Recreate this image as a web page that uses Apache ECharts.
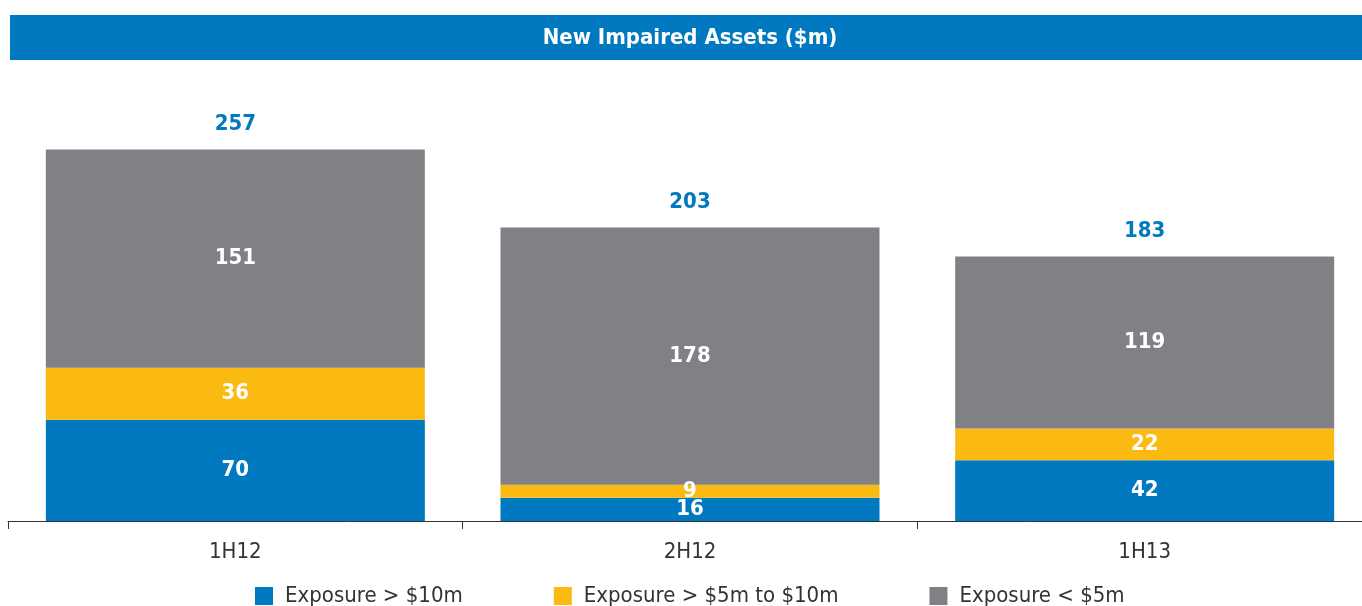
<!DOCTYPE html>
<html>
<head>
<meta charset="utf-8">
<script src="https://cdn.jsdelivr.net/npm/echarts@6/dist/echarts.min.js"></script>
<style>
  html, body { margin: 0; padding: 0; background: #fff; overflow: hidden; }
  #main { width: 1372px; height: 606px; }
</style>
</head>
<body>
<div id="main"></div>
<script>
const categories = ['1H12', '2H12', '1H13']
const over10m = [70, 16, 42]
const from5to10m = [36, 9, 22]
const under5m = [151, 178, 119]
const totals = [257, 203, 183]

const FONT = '"DejaVu Sans Condensed", "Noto Sans", sans-serif'

const chart = echarts.init(document.getElementById('main'))

const insideLabel = {
  show: true,
  position: 'inside',
  color: '#ffffff',
  fontFamily: FONT,
  fontSize: 22,
  fontWeight: 'bold',
}

const option = {
  animation: false,
  textStyle: { fontFamily: FONT },
  graphic: [
    {
      type: 'rect',
      shape: { x: 10, y: 15, width: 1362, height: 45 },
      style: { fill: '#0079C1' },
    },
    {
      type: 'text',
      x: 690,
      y: 38,
      style: {
        text: 'New Impaired Assets ($m)',
        fill: '#ffffff',
        font: 'bold 22px ' + FONT,
        align: 'center',
        verticalAlign: 'middle',
      },
    },
  ],
  legend: {
    top: 580,
    left: 250,
    data: ['Exposure > $10m', 'Exposure > $5m to $10m', 'Exposure < $5m'],
    icon: 'rect',
    itemWidth: 18,
    itemHeight: 18,
    itemGap: 91,
    textStyle: { color: '#333333', fontSize: 22, fontFamily: FONT, padding: [0, 0, 0, 7] },
  },
  grid: {
    left: 8,
    right: 0,
    top: 80,
    bottom: 85,
  },
  xAxis: {
    type: 'category',
    data: categories,
    axisLine: { lineStyle: { color: '#333333', width: 1 } },
    axisTick: { show: true, length: 8, lineStyle: { color: '#333333' } },
    axisLabel: { color: '#333333', fontSize: 22, margin: 20, fontFamily: FONT },
  },
  yAxis: {
    type: 'value',
    min: 0,
    max: 305,
    show: false,
  },
  series: [
    {
      name: 'Exposure > $10m',
      type: 'bar',
      stack: 'total',
      barWidth: 379,
      itemStyle: { color: '#0079C1' },
      label: insideLabel,
      data: over10m,
    },
    {
      name: 'Exposure > $5m to $10m',
      type: 'bar',
      stack: 'total',
      itemStyle: { color: '#FBBA12' },
      label: insideLabel,
      data: from5to10m,
    },
    {
      name: 'Exposure < $5m',
      type: 'bar',
      stack: 'total',
      itemStyle: { color: '#808184' },
      label: insideLabel,
      data: under5m,
    },
    {
      name: 'Total',
      type: 'bar',
      stack: 'total',
      itemStyle: { color: 'transparent' },
      label: {
        show: true,
        position: 'top',
        distance: 14,
        color: '#0079C1',
        fontFamily: FONT,
        fontSize: 22,
        fontWeight: 'bold',
        formatter: (p) => totals[p.dataIndex],
      },
      data: [0, 0, 0],
    },
  ],
}

chart.setOption(option)
</script>
</body>
</html>
